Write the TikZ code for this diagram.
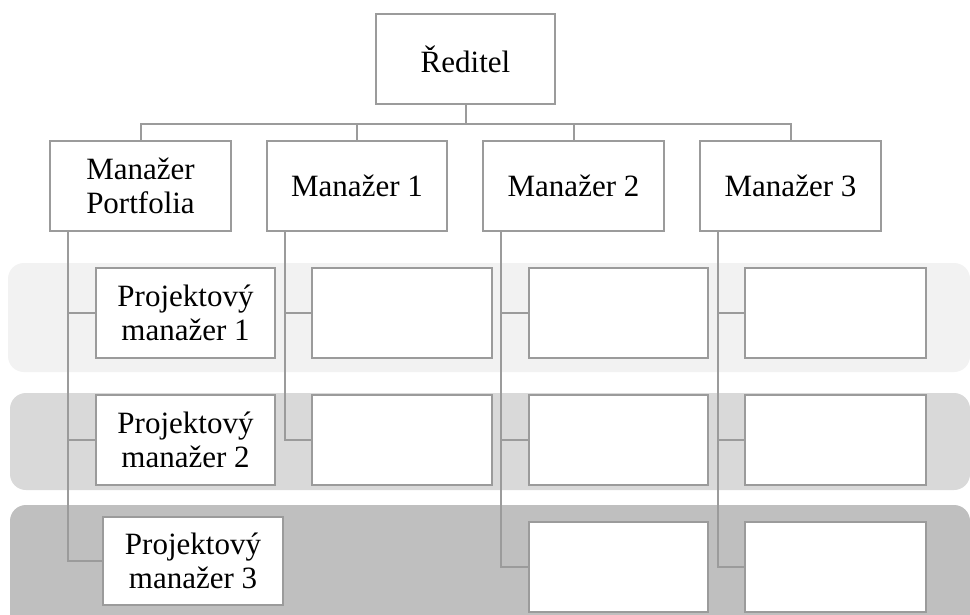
\documentclass[tikz,border=0pt]{standalone}
\usepackage{fontspec}
\setmainfont{Liberation Serif}
\definecolor{linegray}{RGB}{155,155,155}
\definecolor{bandA}{RGB}{242,242,242}
\definecolor{bandB}{RGB}{217,217,217}
\definecolor{bandC}{RGB}{191,191,191}
\tikzset{
  unit/.style={draw=linegray, line width=2pt, fill=white, minimum width=179pt,
    minimum height=90pt, inner sep=0pt, align=center,
    font=\fontsize{31}{34}\selectfont},
  link/.style={draw=linegray, line width=2pt},
  band/.style={rounded corners=16pt}
}
\begin{document}
\begin{tikzpicture}[x=1pt, y=-1pt]
  \clip (0,0) rectangle (970,614);
  \fill[white] (0,0) rectangle (970,614);

  % row bands
  \fill[bandA, band] (8,263) rectangle (970,372);
  \fill[bandB, band] (10,393) rectangle (970,490);
  \fill[bandC, band] (10,505) rectangle (970,640);

  % director and managers
  \node[unit] (dir) at (465.5,59) {Ředitel};
  \node[unit, minimum width=181pt] (mp) at (140.5,186) {Manažer\\Portfolia};
  \node[unit, minimum width=180pt] (m1) at (357,186) {Manažer 1};
  \node[unit, minimum width=181pt] (m2) at (573.5,186) {Manažer 2};
  \node[unit, minimum width=181pt] (m3) at (790.5,186) {Manažer 3};

  % first row
  \node[unit] (p1) at (185.5,313) {Projektový\\manažer 1};
  \node[unit, minimum width=180pt] (a1) at (402,313) {};
  \node[unit] (b1) at (618.5,313) {};
  \node[unit, minimum width=181pt] (c1) at (835.5,313) {};

  % second row
  \node[unit] (p2) at (185.5,440) {Projektový\\manažer 2};
  \node[unit, minimum width=180pt] (a2) at (402,440) {};
  \node[unit] (b2) at (618.5,440) {};
  \node[unit, minimum width=181pt] (c2) at (835.5,440) {};

  % third row
  \node[unit, minimum width=180pt, minimum height=88pt] (p3) at (193,561) {Projektový\\manažer 3};
  \node[unit] (b3) at (618.5,567) {};
  \node[unit, minimum width=181pt] (c3) at (835.5,567) {};

  % director to managers
  \draw[link] (dir.south) -- ++(0,-19pt) coordinate (bus);
  \foreach \m in {mp,m1,m2,m3}
    \draw[link] (bus) -| (\m.north);

  % managers to their subordinates
  \draw[link] ([xshift=19pt]mp.south west) |- (p3.west);
  \draw[link] ([xshift=19pt]mp.south west) |- (p1.west);
  \draw[link] ([xshift=19pt]mp.south west) |- (p2.west);

  \draw[link] ([xshift=19pt]m1.south west) |- (a2.west);
  \draw[link] ([xshift=19pt]m1.south west) |- (a1.west);

  \draw[link] ([xshift=19pt]m2.south west) |- (b3.west);
  \draw[link] ([xshift=19pt]m2.south west) |- (b1.west);
  \draw[link] ([xshift=19pt]m2.south west) |- (b2.west);

  \draw[link] ([xshift=19pt]m3.south west) |- (c3.west);
  \draw[link] ([xshift=19pt]m3.south west) |- (c1.west);
  \draw[link] ([xshift=19pt]m3.south west) |- (c2.west);
\end{tikzpicture}
\end{document}
